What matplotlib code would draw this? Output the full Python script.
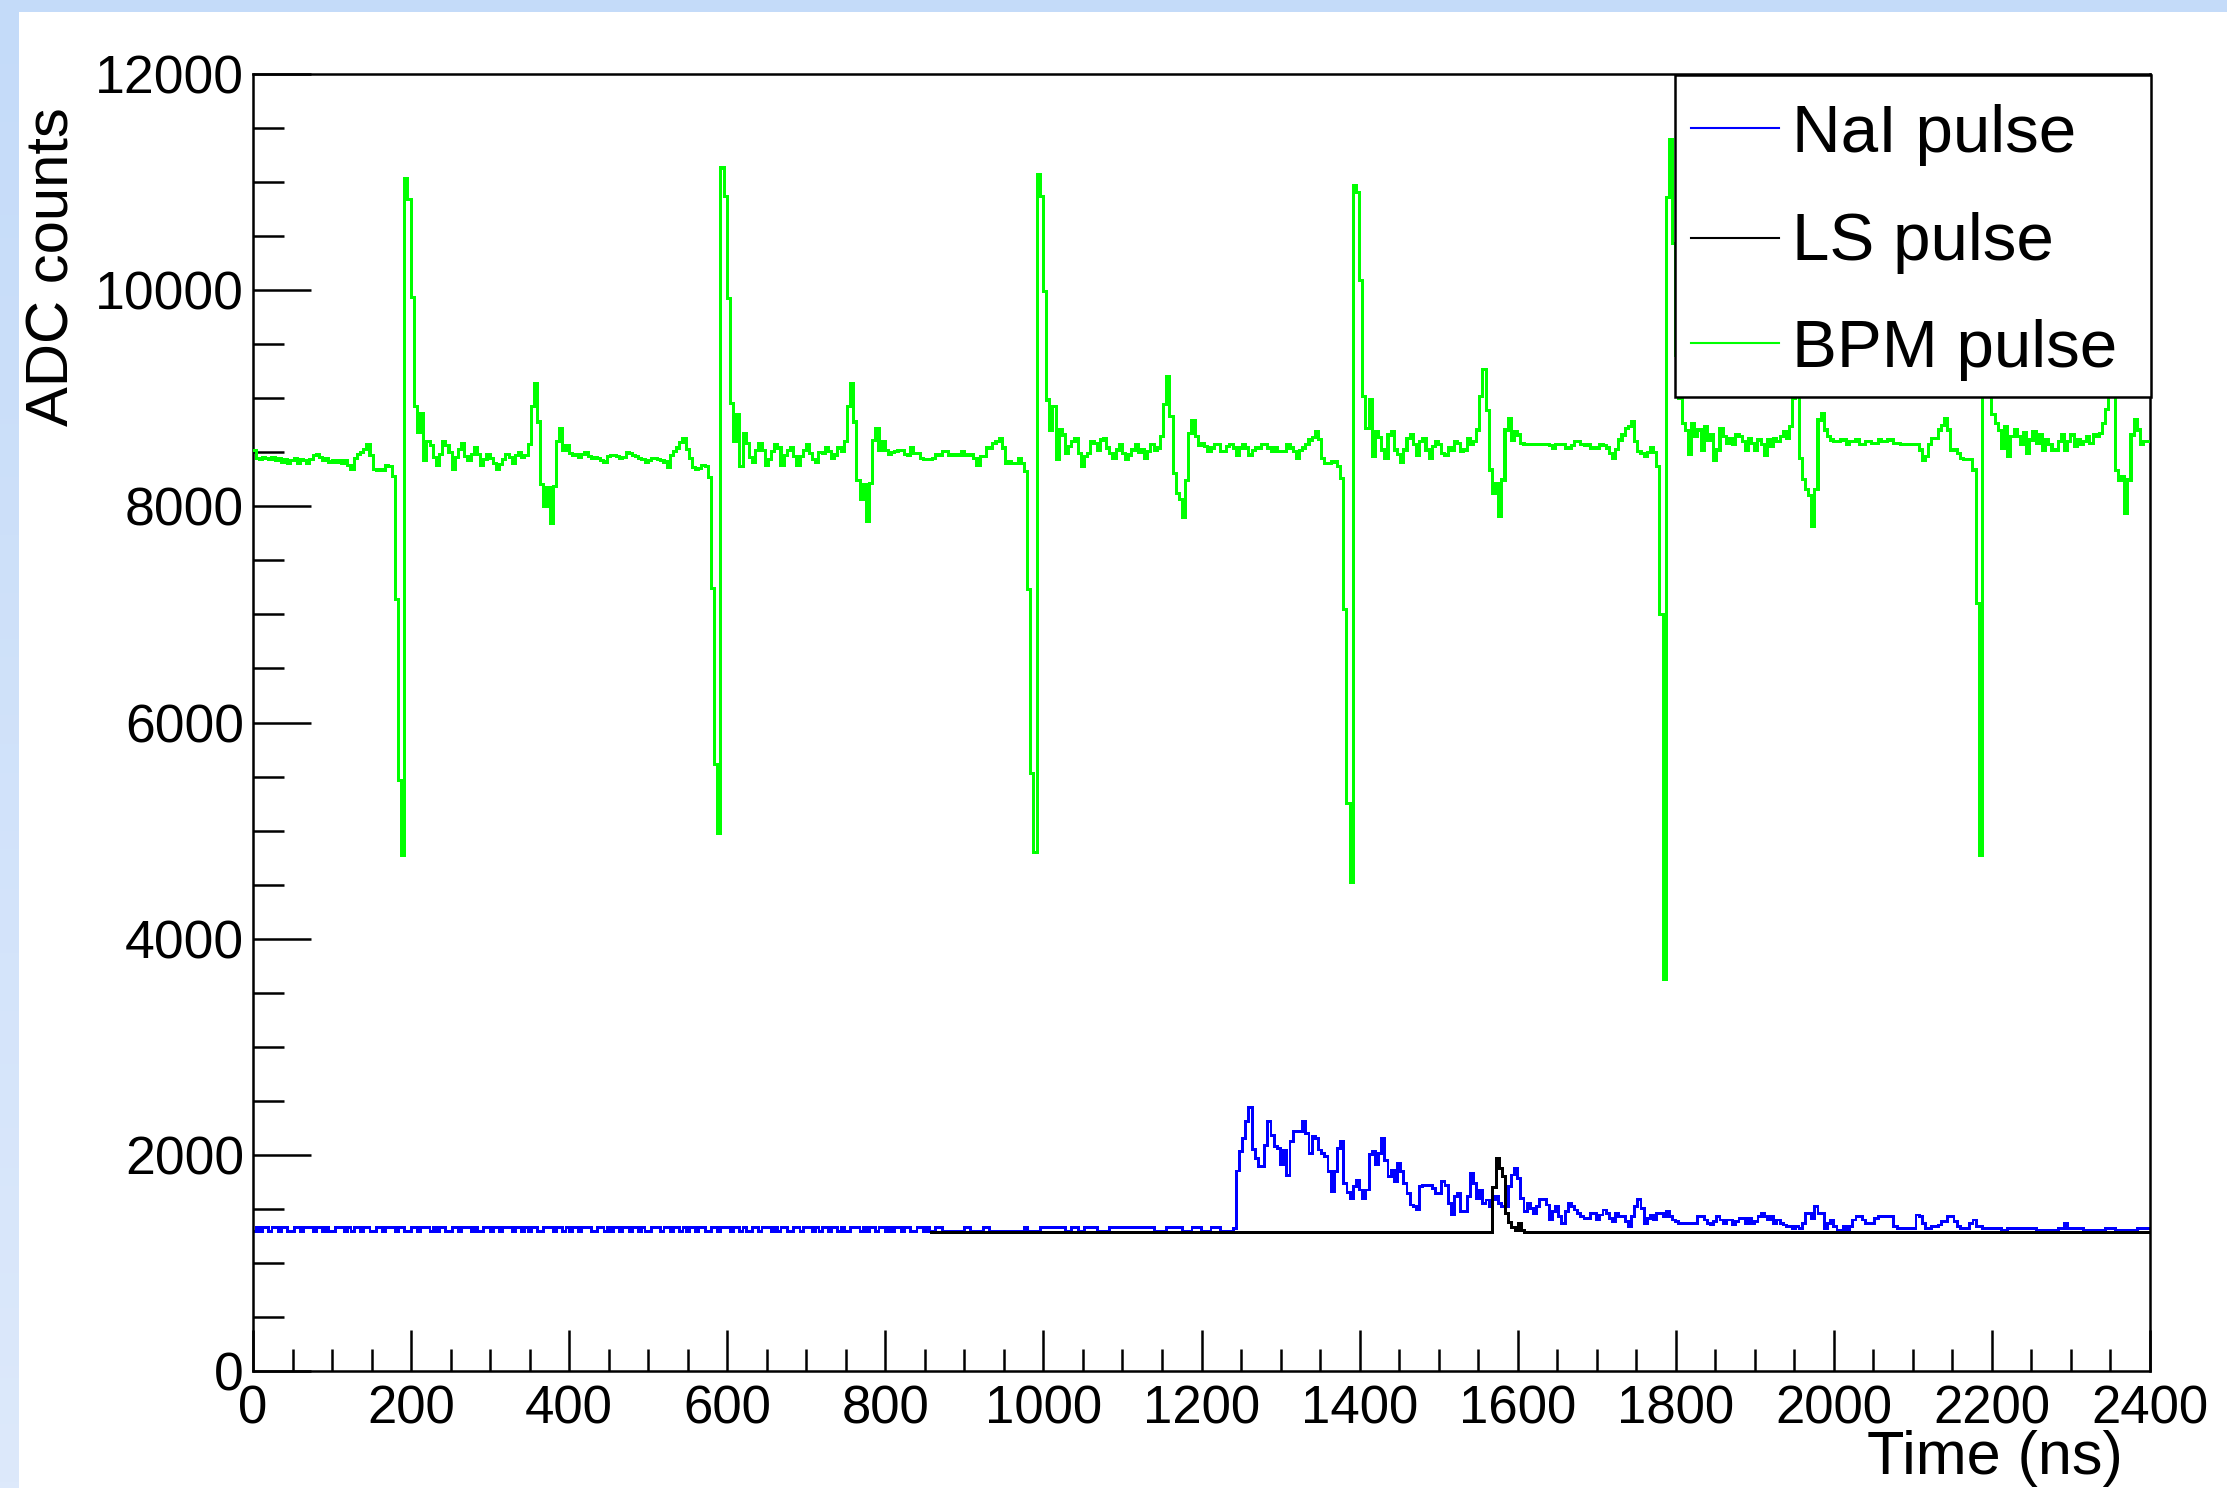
import numpy as np
import matplotlib
matplotlib.use("Agg")
import matplotlib.pyplot as plt
from matplotlib.patches import Rectangle
from matplotlib.lines import Line2D
from matplotlib.colors import LinearSegmentedColormap

plt.rcParams["font.family"] = ["Liberation Sans", "DejaVu Sans"]

# 4 ns samples, 600 per trace (0 - 2400 ns)
bin_ns = 4

# BPM pulse, one list per 400 ns stretch
bpm_000 = [8520, 8440, 8430, 8450, 8440, 8430, 8450, 8420, 8440, 8410,
           8430, 8400, 8420, 8440, 8400, 8430, 8420, 8400, 8430, 8470,
           8480, 8450, 8420, 8440, 8410, 8420, 8410, 8420, 8400, 8420,
           8380, 8340, 8440, 8480, 8500, 8530, 8570, 8470, 8340, 8330,
           8340, 8330, 8380, 8370, 8280, 7140, 5460, 4770, 11030, 10840,
           9930, 8920, 8680, 8860, 8420, 8600, 8560, 8450, 8380, 8480,
           8600, 8560, 8500, 8340, 8450, 8530, 8580, 8460, 8420, 8480,
           8540, 8480, 8380, 8430, 8480, 8440, 8400, 8340, 8390, 8430,
           8480, 8450, 8400, 8470, 8500, 8450, 8470, 8570, 8920, 9140,
           8780, 8200, 8000, 8170, 7840, 8180, 8600, 8720, 8520, 8560]
bpm_400 = [8490, 8470, 8480, 8450, 8480, 8500, 8460, 8440, 8450, 8440,
           8420, 8410, 8460, 8470, 8470, 8460, 8440, 8450, 8500, 8490,
           8470, 8460, 8440, 8430, 8410, 8420, 8440, 8440, 8430, 8420,
           8410, 8360, 8470, 8510, 8540, 8590, 8630, 8530, 8440, 8360,
           8340, 8350, 8380, 8370, 8270, 7240, 5610, 4970, 11130, 10870,
           9925, 8950, 8600, 8850, 8370, 8670, 8580, 8450, 8410, 8520,
           8580, 8520, 8380, 8430, 8505, 8570, 8540, 8380, 8470, 8520,
           8540, 8460, 8380, 8460, 8520, 8570, 8490, 8430, 8410, 8500,
           8490, 8540, 8505, 8445, 8475, 8540, 8505, 8600, 8920, 9140,
           8780, 8240, 8060, 8200, 7860, 8210, 8610, 8720, 8520, 8600]
bpm_800 = [8520, 8480, 8500, 8505, 8520, 8520, 8480, 8475, 8540, 8490,
           8490, 8445, 8430, 8430, 8430, 8440, 8475, 8475, 8505, 8505,
           8475, 8475, 8475, 8475, 8505, 8475, 8475, 8475, 8445, 8380,
           8460, 8460, 8540, 8540, 8580, 8600, 8630, 8540, 8400, 8410,
           8400, 8400, 8445, 8400, 8320, 7230, 5530, 4800, 11066, 10870,
           9986, 8984, 8706, 8922, 8430, 8706, 8660, 8490, 8552, 8600,
           8630, 8490, 8367, 8460, 8490, 8600, 8583, 8521, 8614, 8630,
           8540, 8490, 8445, 8521, 8570, 8490, 8430, 8475, 8521, 8570,
           8500, 8521, 8445, 8505, 8570, 8521, 8540, 8645, 8940, 9200,
           8830, 8300, 8120, 8060, 7900, 8240, 8670, 8790, 8650, 8560]
bpm_1200 = [8583, 8552, 8505, 8540, 8570, 8570, 8505, 8505, 8550, 8570,
            8540, 8475, 8540, 8570, 8540, 8475, 8520, 8540, 8540, 8570,
            8570, 8540, 8505, 8540, 8505, 8505, 8505, 8570, 8540, 8505,
            8445, 8520, 8540, 8570, 8614, 8640, 8690, 8620, 8445, 8398,
            8400, 8410, 8410, 8367, 8260, 7045, 5250, 4520, 10964, 10900,
            10090, 9015, 8720, 8984, 8460, 8690, 8640, 8521, 8445, 8660,
            8690, 8521, 8480, 8410, 8521, 8630, 8660, 8570, 8475, 8600,
            8630, 8521, 8445, 8552, 8600, 8570, 8490, 8475, 8540, 8521,
            8600, 8583, 8505, 8521, 8630, 8570, 8600, 8706, 9015, 9262,
            8890, 8336, 8121, 8213, 7905, 8244, 8706, 8815, 8614, 8690]
bpm_1600 = [8660, 8583, 8570, 8570, 8570, 8570, 8570, 8570, 8570, 8570,
            8560, 8540, 8570, 8570, 8570, 8540, 8540, 8560, 8600, 8600,
            8570, 8560, 8570, 8540, 8540, 8540, 8570, 8560, 8540, 8490,
            8445, 8530, 8614, 8660, 8720, 8737, 8784, 8600, 8505, 8490,
            8460, 8500, 8540, 8500, 8367, 7000, 3620, 10860, 11390, 10430,
            9400, 8999, 8768, 8700, 8480, 8768, 8645, 8706, 8521, 8737,
            8614, 8660, 8429, 8521, 8722, 8645, 8583, 8630, 8570, 8660,
            8645, 8600, 8521, 8630, 8583, 8521, 8614, 8570, 8475, 8614,
            8552, 8630, 8600, 8645, 8690, 8630, 8737, 9000, 9150, 8445,
            8250, 8152, 8100, 7810, 8152, 8799, 8860, 8706, 8650, 8614]
bpm_2000 = [8600, 8600, 8614, 8614, 8570, 8600, 8600, 8614, 8570, 8570,
            8600, 8600, 8583, 8583, 8614, 8600, 8600, 8614, 8614, 8583,
            8583, 8570, 8570, 8570, 8570, 8570, 8570, 8521, 8429, 8460,
            8570, 8630, 8630, 8706, 8750, 8815, 8706, 8521, 8521, 8490,
            8445, 8430, 8429, 8430, 8336, 7100, 4770, 11000, 10800, 9900,
            8850, 8768, 8700, 8540, 8737, 8460, 8645, 8706, 8645, 8570,
            8680, 8490, 8614, 8690, 8583, 8660, 8521, 8614, 8570, 8521,
            8521, 8600, 8660, 8521, 8600, 8660, 8552, 8614, 8570, 8600,
            8645, 8583, 8660, 8645, 8676, 8768, 8900, 9050, 9200, 8330,
            8244, 8275, 7935, 8244, 8660, 8799, 8706, 8570, 8600, 8600]

# NaI pulse: baseline flicker (0 - 1240 ns), then the scintillation signal
nai_base = [1290, 1325, 1290, 1325, 1325, 1290, 1325, 1325, 1290, 1325, 1325, 1290, 1290, 1325, 1325, 1290, 1325, 1325, 1325, 1290,
            1325, 1325, 1290, 1325, 1290, 1290, 1325, 1325, 1325, 1290, 1325, 1290, 1325, 1325, 1290, 1325, 1325, 1290, 1290, 1325,
            1325, 1290, 1325, 1325, 1325, 1290, 1325, 1325, 1290, 1290, 1325, 1325, 1290, 1325, 1325, 1325, 1290, 1325, 1290, 1325,
            1325, 1290, 1290, 1325, 1325, 1290, 1325, 1325, 1325, 1290, 1325, 1290, 1290, 1325, 1325, 1290, 1325, 1325, 1290, 1325,
            1325, 1325, 1290, 1325, 1325, 1290, 1325, 1290, 1325, 1325, 1290, 1290, 1325, 1325, 1325, 1290, 1325, 1325, 1290, 1325,
            1290, 1325, 1325, 1290, 1325, 1325, 1325, 1290, 1290, 1325, 1325, 1290, 1325, 1290, 1325, 1325, 1290, 1325, 1325, 1290,
            1325, 1325, 1290, 1325, 1290, 1290, 1325, 1325, 1325, 1290, 1325, 1325, 1290, 1325, 1325, 1290, 1325, 1290, 1325, 1325,
            1290, 1325, 1325, 1290, 1290, 1325, 1325, 1290, 1325, 1325, 1325, 1290, 1325, 1325, 1290, 1325, 1290, 1290, 1325, 1325,
            1290, 1325, 1325, 1325, 1290, 1325, 1290, 1325, 1325, 1290, 1290, 1325, 1325, 1290, 1325, 1325, 1325, 1290, 1325, 1290,
            1325, 1325, 1290, 1325, 1325, 1290, 1325, 1290, 1290, 1325, 1325, 1325, 1290, 1325, 1290, 1325, 1325, 1290, 1325, 1325,
            1290, 1325, 1290, 1325, 1325, 1290, 1325, 1325, 1290, 1290, 1325, 1325, 1290, 1325,
            1290, 1290, 1325, 1325, 1290, 1290, 1290, 1290, 1290, 1290, 1290, 1325, 1325, 1290, 1290, 1290, 1290, 1325, 1325, 1290,
            1290, 1290, 1290, 1290, 1290, 1290, 1290, 1290, 1290, 1290, 1325, 1290, 1290, 1290, 1290, 1325, 1325, 1325, 1325, 1325,
            1325, 1325, 1325, 1290, 1290, 1325, 1325, 1290, 1290, 1325, 1325, 1325, 1325, 1290, 1290, 1290, 1290, 1325, 1325, 1325,
            1325, 1325, 1325, 1325, 1325, 1325, 1325, 1325, 1325, 1325, 1325, 1290, 1290, 1290, 1290, 1325, 1325, 1325, 1325, 1325,
            1290, 1290, 1290, 1325, 1325, 1325, 1290, 1290, 1290, 1325, 1325, 1325, 1290, 1290, 1290, 1290]
nai_signal = [1320, 1850, 2030, 2150, 2307, 2436, 2050, 1970, 1890, 1890,
              2090, 2307, 2180, 2075, 2060, 1910, 2045, 1810, 2120, 2215,
              2215, 2215, 2307, 2200, 2010, 2168, 2150, 2045, 2010, 1983,
              1845, 1660, 1845, 2060, 2120, 1736, 1650, 1598, 1706, 1767,
              1675, 1598, 1675, 2000, 2030, 1910, 2015, 2150, 1950, 1798,
              1860, 1750, 1921, 1845, 1736, 1644, 1536, 1520, 1490, 1706,
              1720, 1720, 1720, 1690, 1644, 1644, 1750, 1720, 1551, 1443,
              1613, 1644, 1474, 1474, 1613, 1829, 1736, 1598, 1675, 1551,
              1582, 1520, 1582, 1613, 1551, 1520, 1520, 1706, 1813, 1875,
              1780, 1598, 1474, 1551, 1505, 1459, 1520, 1583, 1583, 1536,
              1397, 1474, 1520, 1428, 1366, 1474, 1551, 1520, 1490, 1459,
              1428, 1413, 1413, 1459, 1459, 1397, 1443, 1490, 1459, 1413,
              1382, 1459, 1428, 1428, 1382, 1335, 1428, 1520, 1583, 1505,
              1366, 1413, 1443, 1397, 1459, 1459, 1428, 1474, 1428, 1397,
              1382, 1366, 1366, 1366, 1366, 1366, 1366, 1428, 1428, 1397,
              1366, 1351, 1382, 1428, 1397, 1366, 1397, 1397, 1351, 1382,
              1413, 1413, 1366, 1413, 1366, 1382, 1428, 1459, 1428, 1397,
              1428, 1366, 1397, 1366, 1351, 1335, 1335, 1320, 1335, 1320,
              1366, 1459, 1459, 1413, 1520, 1459, 1459, 1320, 1366, 1397,
              1335, 1305, 1305, 1335, 1305, 1335, 1397, 1428, 1428, 1397,
              1366, 1366, 1366, 1413, 1428, 1428, 1428, 1428, 1428, 1335,
              1320, 1320, 1320, 1320, 1320, 1320, 1443, 1428, 1366, 1320,
              1320, 1335, 1335, 1351, 1382, 1382, 1428, 1428, 1382, 1335,
              1320, 1320, 1320, 1366, 1397, 1335, 1335, 1320, 1320, 1320,
              1320, 1320, 1320, 1305, 1305, 1320, 1320, 1320, 1320, 1320,
              1320, 1320, 1320, 1320, 1305, 1305, 1305, 1305, 1305, 1305,
              1305, 1320, 1320, 1366, 1320, 1320, 1320, 1320, 1320, 1305,
              1305, 1305, 1305, 1305, 1305, 1305, 1320, 1320, 1320, 1305,
              1305, 1305, 1305, 1305, 1305, 1305, 1320, 1320, 1320, 1320]

# LS pulse: step breakpoints (ns) and levels
ls_edges = [856, 1568, 1572, 1576, 1580, 1584, 1588, 1592, 1596, 1600, 1604, 1608, 2400]
ls_counts = [1289, 1705, 1970, 1880, 1800, 1460, 1380, 1335, 1305, 1366, 1305, 1289]

labels = ["NaI pulse", "LS pulse", "BPM pulse"]
colors = ["#0000ff", "#000000", "#00ff00"]

W, H = 2227, 1488
def fx(px):
    return px / W
def fy(py):
    return 1 - py / H

fig = plt.figure(figsize=(W / 100, H / 100), dpi=100)
fig.patch.set_facecolor("white")

# light blue slide border
fig.add_artist(Rectangle((0, fy(12)), 1, 12 / H, transform=fig.transFigure,
                         facecolor="#c4dbf9", edgecolor="none", zorder=0))
band = fig.add_axes([0, 0, fx(19), 1])
cmap = LinearSegmentedColormap.from_list("band", ["#dde9fb", "#c4dbf9"])
band.imshow(np.linspace(0, 1, 256)[:, None], cmap=cmap, aspect="auto", origin="lower")
band.axis("off")

ax = fig.add_axes([fx(253), fy(1371), fx(2150) - fx(253), fy(74) - fy(1371)])

bpm = bpm_000 + bpm_400 + bpm_800 + bpm_1200 + bpm_1600 + bpm_2000
nai = nai_base + nai_signal
edges = np.arange(0, len(bpm) * bin_ns + 1, bin_ns)

ax.stairs(nai, edges, baseline=None, color=colors[0], lw=1.35, zorder=2, antialiased=False)
ax.stairs(ls_counts, ls_edges, baseline=None, color=colors[1], lw=2.0, zorder=3, antialiased=False)
ax.stairs(bpm, edges, baseline=None, color=colors[2], lw=1.5, zorder=4, antialiased=False)

ax.set_xlim(0, 2400)
ax.set_ylim(0, 12000)
ax.set_xticks(np.arange(0, 2401, 200))
ax.set_xticks(np.arange(0, 2401, 50), minor=True)
ax.set_yticks(np.arange(0, 12001, 2000))
ax.set_yticks(np.arange(0, 12001, 500), minor=True)

for s in ax.spines.values():
    s.set_linewidth(1.8)
ax.tick_params(axis="both", which="both", direction="in", top=False, right=False,
               width=1.8, colors="black")
ax.tick_params(axis="y", which="major", length=41.5, pad=6.5, labelsize=38.5)
ax.tick_params(axis="y", which="minor", length=22.5)
ax.tick_params(axis="x", which="major", length=29.5, pad=9.5, labelsize=38)
ax.tick_params(axis="x", which="minor", length=16)

fig.text(fx(69), fy(107), "ADC counts", rotation=90, rotation_mode="anchor",
         ha="right", va="baseline", fontsize=43)
fig.text(fx(2123), fy(1474), "Time (ns)", ha="right", va="baseline", fontsize=44)

# legend box in the top right corner of the frame
fig.add_artist(Rectangle((fx(1675), fy(397)), (2151 - 1675) / W, (397 - 75) / H,
                         transform=fig.transFigure, facecolor="white",
                         edgecolor="black", lw=1.8, zorder=5))
rows = [(128, 152), (238, 260), (343, 367)]
for (yl, yb), lab, c in zip(rows, labels, colors):
    fig.add_artist(Line2D([fx(1691), fx(1779)], [fy(yl), fy(yl)], transform=fig.transFigure,
                          color=c, lw=1.5, zorder=6))
    fig.text(fx(1792), fy(yb), lab, ha="left", va="baseline", fontsize=48.5, zorder=7)

fig.savefig("out.png", dpi=100)
